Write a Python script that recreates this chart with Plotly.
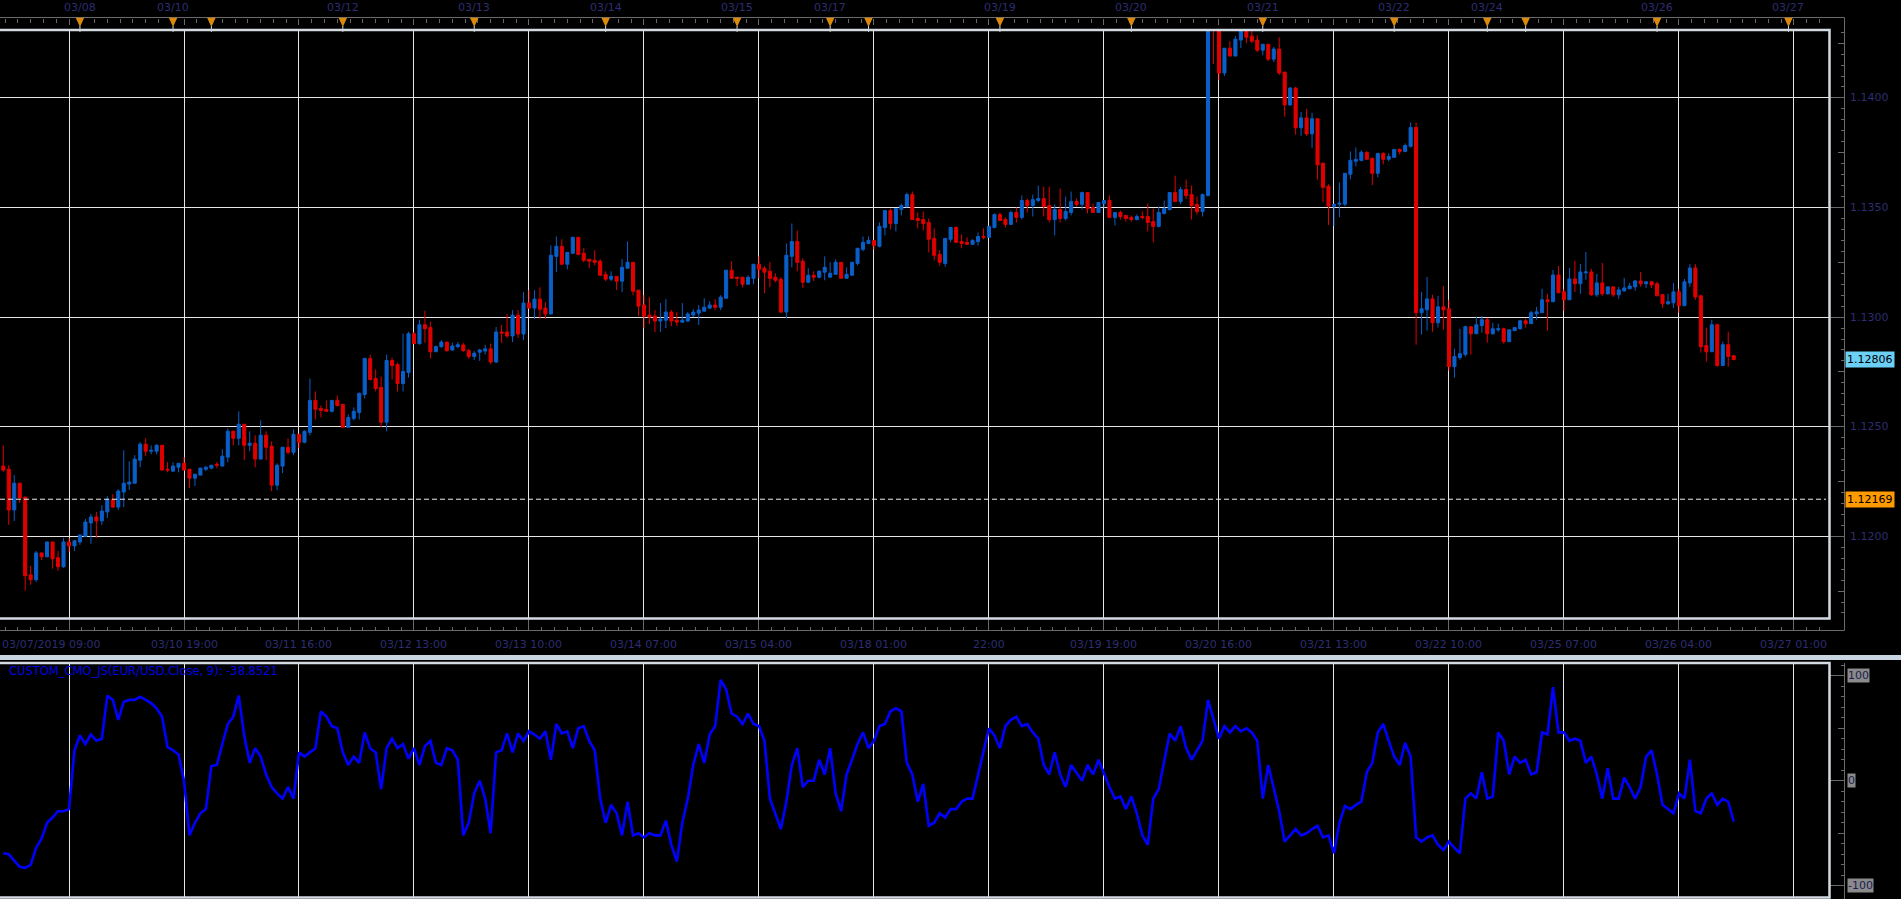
import plotly.graph_objects as go

W, H = 1901, 899

# ---------------- data (EUR/USD hourly, values in pips above BASE) ----------------
BASE = 1.1200
open_pips = [
 32.0, 30.6, 12.0, 24.2, 17.9, -17.6, -19.8, -7.6, -9.4, -2.6,
 -9.8, -13.9, -2.6, -4.4, -2.6, 0.0, 6.1, 8.8, 7.0, 11.1,
 16.8, 13.3, 20.2, 23.8, 24.2, 34.7, 42.0, 38.8, 38.8, 41.5,
 30.6, 29.7, 31.5, 33.3, 30.6, 26.5, 27.9, 30.6, 31.1, 32.9,
 32.0, 36.1, 47.9, 44.7, 51.1, 41.5, 42.4, 35.2, 46.1, 41.1,
 23.3, 32.0, 40.6, 38.3, 46.5, 42.9, 47.4, 62.0, 58.3, 57.9,
 57.0, 62.0, 60.2, 49.7, 53.8, 56.5, 64.7, 81.1, 72.0, 67.9,
 52.0, 80.2, 78.3, 69.7, 74.7, 92.4, 87.9, 96.5, 95.2, 84.2,
 86.5, 88.6, 85.0, 86.5, 87.3, 84.7, 82.0, 84.0, 84.5, 85.5,
 79.5, 93.2, 93.2, 91.4, 100.9, 92.3, 106.4, 104.1, 108.2, 104.1,
 101.4, 127.7, 132.3, 124.1, 129.1, 136.4, 129.1, 126.4, 125.9, 125.5,
 119.5, 117.3, 118.6, 116.4, 122.3, 125.0, 112.3, 105.5, 100.9, 100.5,
 98.2, 98.6, 102.3, 98.6, 97.7, 98.2, 100.9, 101.8, 102.7, 104.1,
 105.5, 104.5, 108.6, 121.4, 118.2, 118.2, 115.0, 117.7, 124.1, 122.3,
 120.9, 118.2, 117.3, 102.3, 127.7, 134.5, 125.5, 115.9, 119.1, 118.2,
 120.5, 118.2, 119.5, 125.0, 117.7, 119.1, 124.5, 130.9, 133.6, 135.0,
 132.3, 140.9, 148.6, 142.7, 149.1, 150.5, 155.9, 145.0, 144.5, 143.2,
 135.9, 128.6, 124.5, 135.5, 140.9, 134.5, 134.1, 133.2, 134.5, 136.8,
 136.4, 140.9, 146.8, 144.5, 142.3, 147.7, 145.5, 153.2, 150.9, 153.2,
 154.1, 150.9, 144.5, 149.1, 145.0, 147.7, 152.7, 151.4, 156.8, 150.0,
 147.7, 151.8, 153.2, 145.5, 147.7, 146.4, 145.5, 144.5, 145.9, 145.9,
 143.6, 141.4, 147.3, 149.1, 156.8, 152.7, 158.2, 155.9, 151.4, 148.2,
 155.5, 237.5, 233.0, 211.4, 222.7, 219.1, 226.4, 231.0, 228.2, 226.4,
 221.8, 224.5, 217.7, 222.3, 211.8, 196.8, 204.5, 186.4, 190.9, 183.6,
 190.5, 170.2, 159.7, 150.6, 151.5, 151.5, 165.2, 171.1, 171.5, 175.2,
 172.4, 165.6, 174.7, 172.0, 172.9, 176.5, 175.6, 177.9, 186.5, 102.0,
 103.3, 108.3, 97.4, 104.7, 103.8, 77.4, 81.5, 82.9, 95.6, 92.4,
 96.1, 98.8, 92.4, 94.2, 94.7, 88.8, 93.8, 94.7, 98.3, 97.0,
 101.5, 102.0, 107.9, 107.0, 119.2, 111.5, 107.9, 117.4, 115.2, 120.2,
 120.6, 110.2, 115.6, 110.6, 113.8, 110.2, 112.0, 112.9, 113.8, 116.5,
 115.2, 116.1, 115.2, 110.2, 106.1, 106.5, 111.5, 105.2, 115.6, 122.4,
 109.7, 87.0, 84.2, 96.5, 77.9, 87.4, 82.4]
high_pips = [
 41.5, 32.4, 27.9, 24.2, 17.9, -13.5, -6.7, -7.6, -2.6, -2.6,
 -6.7, -0.8, -0.8, -1.7, 0.6, 7.9, 10.2, 11.1, 14.2, 18.3,
 19.2, 21.5, 39.2, 34.2, 37.0, 42.9, 44.7, 41.5, 42.0, 41.5,
 33.8, 33.8, 33.3, 36.1, 30.6, 28.3, 31.1, 32.0, 32.4, 33.8,
 39.7, 49.2, 48.3, 57.0, 51.1, 47.9, 46.1, 52.9, 47.9, 43.3,
 33.3, 40.6, 44.7, 48.8, 46.5, 48.3, 72.0, 66.1, 59.7, 62.0,
 62.0, 64.2, 60.2, 55.6, 58.8, 65.6, 81.5, 82.9, 76.1, 72.9,
 82.9, 81.5, 79.2, 92.4, 93.3, 93.3, 98.8, 102.9, 97.9, 87.0,
 89.5, 88.6, 88.3, 88.6, 88.2, 85.5, 84.5, 85.5, 87.3, 87.9,
 95.5, 96.4, 101.4, 103.2, 103.2, 111.4, 112.3, 112.3, 113.6, 106.8,
 132.7, 136.8, 135.5, 129.5, 136.4, 136.4, 131.4, 126.4, 130.5, 126.4,
 120.9, 120.9, 118.6, 126.4, 134.5, 125.0, 112.3, 110.0, 109.1, 103.2,
 106.4, 108.2, 103.2, 102.3, 106.4, 102.3, 103.6, 105.5, 108.6, 107.3,
 108.2, 110.0, 121.4, 125.5, 118.2, 118.2, 119.1, 124.1, 127.7, 123.2,
 125.0, 120.0, 118.2, 133.6, 142.7, 139.5, 126.8, 122.3, 120.9, 121.4,
 127.7, 125.0, 126.4, 125.0, 122.7, 125.0, 131.4, 136.8, 136.8, 135.0,
 143.2, 148.6, 149.5, 149.5, 151.8, 156.8, 157.3, 147.7, 148.2, 145.0,
 140.5, 130.5, 135.9, 140.9, 141.4, 137.7, 136.4, 135.5, 138.6, 140.5,
 141.4, 147.3, 147.7, 145.5, 148.6, 150.0, 155.5, 154.1, 155.9, 160.0,
 159.5, 159.5, 151.4, 158.6, 155.0, 157.3, 154.1, 157.3, 156.8, 151.8,
 152.3, 153.2, 155.5, 147.7, 148.6, 146.4, 146.4, 146.8, 148.2, 151.8,
 149.5, 150.5, 153.2, 156.8, 164.5, 159.5, 162.7, 160.0, 155.0, 156.4,
 239.0, 240.0, 234.0, 222.7, 225.9, 228.2, 232.5, 233.0, 231.0, 228.6,
 224.5, 224.5, 223.2, 227.7, 211.8, 205.0, 205.0, 193.6, 195.0, 193.2,
 190.5, 170.6, 160.6, 151.5, 161.5, 165.6, 175.6, 177.4, 176.1, 175.6,
 172.9, 174.7, 175.2, 174.7, 176.5, 177.0, 179.2, 188.8, 188.8, 111.5,
 118.3, 110.2, 109.7, 114.2, 107.9, 85.6, 94.7, 96.1, 95.6, 100.2,
 100.6, 99.7, 97.4, 97.0, 95.2, 94.2, 95.2, 98.8, 99.2, 102.9,
 104.7, 112.9, 110.6, 121.5, 123.3, 112.9, 122.4, 125.6, 124.2, 129.7,
 122.0, 119.7, 124.7, 113.8, 113.8, 113.8, 117.9, 115.6, 117.0, 120.6,
 116.1, 116.5, 116.1, 110.6, 110.6, 115.6, 112.9, 117.4, 124.2, 124.2,
 110.2, 95.2, 98.8, 97.0, 88.8, 93.3, 82.4]
low_pips = [
 29.4, 5.2, 7.0, 15.3, -24.8, -22.1, -20.8, -10.8, -9.4, -14.8,
 -15.8, -14.4, -7.1, -6.7, -3.9, 0.0, -3.5, -0.8, 5.2, 8.3,
 12.9, 12.0, 13.3, 21.1, 24.2, 31.5, 36.5, 37.4, 37.4, 30.2,
 29.2, 29.7, 29.2, 30.2, 22.0, 22.9, 27.9, 29.7, 30.6, 31.1,
 32.0, 33.8, 41.5, 41.5, 34.7, 38.8, 31.5, 35.2, 34.7, 20.6,
 21.1, 28.8, 37.4, 37.0, 40.2, 42.4, 46.1, 53.3, 54.2, 57.0,
 56.5, 59.2, 49.7, 49.7, 52.9, 53.3, 62.9, 71.1, 66.1, 49.7,
 47.9, 71.5, 66.1, 66.1, 72.4, 87.9, 87.4, 88.3, 81.1, 84.2,
 86.0, 84.2, 84.7, 85.8, 84.2, 81.0, 80.5, 80.0, 83.0, 78.5,
 79.0, 88.2, 90.5, 88.6, 90.5, 89.5, 104.1, 99.1, 99.1, 99.1,
 101.4, 120.5, 124.1, 121.8, 129.1, 128.2, 125.0, 122.3, 123.6, 119.1,
 116.4, 116.4, 112.3, 111.4, 122.3, 110.0, 100.5, 95.0, 96.8, 93.2,
 93.2, 95.0, 95.9, 95.9, 97.3, 97.7, 100.0, 96.4, 102.7, 103.6,
 103.2, 103.2, 108.6, 117.7, 114.1, 113.6, 115.0, 115.0, 117.7, 110.9,
 113.6, 115.9, 101.8, 99.5, 122.7, 120.9, 113.2, 115.5, 116.4, 117.7,
 116.8, 118.2, 119.5, 117.7, 117.7, 119.1, 123.6, 130.0, 133.2, 130.9,
 131.8, 137.3, 140.0, 139.1, 146.4, 150.0, 144.5, 140.5, 139.5, 129.5,
 125.9, 123.5, 123.0, 134.1, 134.1, 131.4, 133.2, 133.2, 132.7, 135.5,
 136.4, 140.5, 144.1, 140.9, 142.3, 143.2, 144.5, 147.7, 145.9, 152.3,
 145.9, 143.2, 137.3, 143.2, 144.1, 146.4, 150.5, 149.1, 147.3, 147.7,
 147.7, 150.0, 145.5, 141.8, 144.5, 143.6, 143.6, 144.1, 144.5, 139.1,
 134.1, 140.9, 146.8, 148.6, 152.7, 151.4, 154.1, 144.5, 146.8, 145.9,
 155.0, 215.5, 208.2, 210.0, 219.1, 219.1, 222.7, 225.0, 225.0, 220.9,
 219.5, 216.8, 216.4, 210.5, 191.4, 196.4, 183.2, 182.7, 182.7, 177.3,
 162.7, 152.4, 142.0, 141.5, 145.6, 150.6, 162.9, 168.8, 171.1, 172.0,
 160.2, 163.8, 169.7, 171.1, 172.9, 174.2, 175.2, 177.4, 87.4, 92.0,
 93.8, 93.3, 95.2, 94.2, 75.6, 72.4, 80.6, 82.0, 82.9, 92.4,
 92.9, 88.3, 92.0, 93.3, 87.9, 88.8, 93.8, 94.2, 95.2, 97.0,
 98.8, 102.0, 93.8, 107.0, 111.1, 102.9, 107.9, 111.5, 110.6, 117.0,
 109.7, 109.2, 109.7, 110.2, 109.2, 108.3, 111.5, 112.9, 112.0, 113.8,
 113.3, 113.3, 109.7, 104.2, 105.6, 104.2, 102.0, 105.2, 113.8, 107.9,
 83.8, 79.7, 84.2, 77.4, 77.9, 77.4, 80.6]
close_pips = [
 30.2, 12.0, 24.2, 17.6, -18.0, -19.8, -7.6, -9.4, -2.6, -10.3,
 -13.9, -2.6, -4.4, -2.1, 0.6, 6.5, 8.8, 7.0, 11.5, 16.8,
 13.3, 20.6, 24.2, 24.7, 35.2, 42.0, 38.8, 39.2, 41.5, 30.2,
 30.2, 32.0, 33.3, 30.2, 26.5, 28.3, 31.1, 31.5, 32.4, 32.4,
 36.5, 47.9, 44.7, 51.1, 41.5, 42.4, 35.2, 46.1, 40.6, 23.3,
 32.4, 40.6, 38.3, 46.5, 42.9, 47.9, 62.0, 57.9, 57.4, 57.0,
 62.0, 59.7, 49.7, 54.2, 57.0, 65.2, 81.1, 71.5, 67.4, 52.0,
 80.2, 77.9, 69.7, 75.2, 92.4, 87.9, 96.5, 94.7, 84.2, 86.5,
 88.6, 84.7, 86.8, 87.4, 84.7, 82.0, 83.5, 85.0, 85.5, 79.5,
 93.2, 92.7, 91.4, 100.9, 92.3, 106.4, 104.1, 108.2, 103.6, 101.4,
 128.2, 132.3, 124.1, 129.5, 136.4, 128.6, 125.9, 125.5, 125.0, 119.1,
 117.3, 118.6, 116.4, 122.7, 125.0, 111.8, 105.0, 100.5, 100.0, 98.2,
 99.1, 102.3, 98.2, 97.7, 98.6, 101.4, 102.3, 103.2, 104.5, 105.5,
 104.5, 109.1, 121.4, 117.7, 117.7, 115.0, 118.2, 124.1, 121.8, 120.5,
 117.7, 116.8, 102.3, 128.2, 134.5, 125.0, 115.9, 119.1, 118.2, 120.9,
 122.7, 120.0, 125.0, 117.7, 119.5, 125.0, 131.4, 134.1, 135.0, 132.7,
 141.4, 148.6, 142.7, 149.5, 150.9, 155.9, 144.5, 144.1, 142.7, 135.5,
 128.2, 125.0, 135.9, 140.9, 134.1, 133.6, 133.2, 135.0, 136.8, 136.4,
 141.4, 146.8, 144.1, 142.3, 147.7, 145.5, 153.2, 150.9, 153.6, 154.1,
 150.5, 144.5, 149.1, 145.0, 148.2, 152.7, 151.4, 156.8, 149.5, 147.7,
 152.3, 153.2, 145.5, 147.7, 145.9, 145.0, 144.5, 145.9, 145.5, 143.2,
 141.4, 147.7, 149.5, 156.8, 152.7, 158.2, 155.5, 150.9, 148.2, 155.9,
 237.5, 233.0, 211.4, 222.7, 219.1, 226.8, 231.0, 227.7, 225.9, 221.8,
 224.5, 217.7, 222.3, 211.4, 196.8, 204.5, 186.4, 190.9, 183.6, 190.5,
 169.5, 159.2, 150.6, 151.5, 152.0, 165.6, 171.5, 172.0, 175.2, 172.0,
 165.6, 174.7, 172.0, 173.3, 176.5, 175.6, 178.3, 186.5, 102.0, 103.8,
 108.3, 97.4, 104.7, 103.3, 77.4, 82.0, 83.3, 95.6, 92.4, 96.5,
 98.8, 92.4, 94.7, 94.7, 88.8, 94.2, 95.2, 98.3, 97.0, 102.0,
 102.4, 107.9, 107.0, 119.2, 111.1, 107.9, 117.4, 115.2, 120.6, 120.6,
 110.2, 115.6, 110.6, 113.8, 110.2, 112.4, 113.3, 114.2, 116.5, 115.2,
 116.1, 114.7, 109.7, 106.1, 107.0, 111.5, 105.2, 116.1, 122.4, 109.2,
 86.5, 84.2, 96.5, 77.9, 87.4, 82.0, 80.6]

# CMO(9) indicator, one reading per bar
cmo_values = [
 -69, -70, -76, -82, -83, -80, -64, -55, -40, -35,
 -29, -29, -27, 29, 43, 35, 44, 38, 40, 81,
 77, 58, 75, 77, 77, 80, 77, 74, 69, 61,
 32, 29, 25, 0, -52, -40, -31, -27, 14, 15,
 35, 54, 61, 81, 43, 17, 31, 23, 6, -6,
 -12, -17, -6, -17, 27, 23, 27, 31, 66, 61,
 52, 50, 27, 15, 23, 17, 46, 31, 27, -8,
 31, 40, 31, 35, 21, 31, 15, 33, 38, 17,
 15, 31, 29, 20, -52, -40, -12, 0, -17, -50,
 27, 29, 45, 27, 45, 38, 47, 44, 40, 47,
 20, 54, 45, 47, 31, 50, 52, 38, 29, -17,
 -40, -23, -31, -52, -20, -52, -50, -54, -50, -52,
 -52, -38, -61, -77, -40, -17, 15, 35, 17, 44,
 52, 96, 87, 64, 61, 54, 64, 54, 52, 38,
 -17, -31, -46, -20, 15, 31, -6, 0, 0, 20,
 6, 31, -12, -29, 6, 20, 35, 46, 31, 38,
 52, 54, 66, 69, 66, 17, 6, -20, -3, -43,
 -40, -31, -35, -27, -27, -20, -17, -17, 6, 29,
 50, 43, 31, 52, 58, 61, 52, 54, 46, 40,
 15, 6, 27, 6, -6, 15, 8, 0, 15, 6,
 20, 6, -6, -17, -15, -27, -15, -31, -52, -61,
 -17, -8, 20, 45, 38, 52, 31, 20, 29, 38,
 77, 58, 40, 52, 46, 52, 47, 50, 46, 38,
 -17, 15, -6, -29, -58, -52, -46, -52, -50, -46,
 -43, -54, -52, -69, -40, -24, -27, -23, -20, 8,
 17, 46, 54, 38, 23, 15, 36, 23, -54, -58,
 -54, -52, -61, -66, -58, -64, -69, -17, -12, -17,
 8, -17, -15, 46, 38, 6, 23, 17, 20, 6,
 8, 46, 44, 89, 46, 46, 38, 40, 38, 17,
 23, 6, -17, 12, -17, -17, 3, -6, -17, -6,
 23, 29, 6, -23, -27, -31, -12, -17, 20, -29,
 -31, -17, -12, -23, -17, -20, -38.8521]

grid_bars = [12, 33, 54, 75, 96, 117, 138, 159, 180, 201, 222, 243, 264, 285, 306, 327]
grid_labels = ["03/07/2019 09:00", "03/10 19:00", "03/11 16:00", "03/12 13:00",
               "03/13 10:00", "03/14 07:00", "03/15 04:00", "03/18 01:00", "22:00",
               "03/19 19:00", "03/20 16:00", "03/21 13:00", "03/22 10:00",
               "03/25 07:00", "03/26 04:00", "03/27 01:00"]
event_bars = [14, 31, 38, 62, 86, 110, 134, 151, 158, 182, 206, 230, 254, 271, 278, 302, 326]
event_labels = ["03/08", "03/10", "", "03/12", "03/13", "03/14", "03/15", "03/17", "",
                "03/19", "03/20", "03/21", "03/22", "03/24", "", "03/26", "03/27"]
price_ticks = [1.1200, 1.1250, 1.1300, 1.1350, 1.1400]
price_labels = ["1.1200", "1.1250", "1.1300", "1.1350", "1.1400"]
mid_price_ticks = [1.1175, 1.1225, 1.1275, 1.1325, 1.1375, 1.1425]
last_price = 1.12806
level_price = 1.12169
cmo_ticks = [-100, 0, 100]
cmo_mid_ticks = [-50, 50]
cmo_name = "CUSTOM_CMO_JS(EUR/USD.Close, 9): -38.8521"

# ---------------- derived ----------------
opens = [round(BASE + p / 10000, 5) for p in open_pips]
highs = [round(BASE + p / 10000, 5) for p in high_pips]
lows = [round(BASE + p / 10000, 5) for p in low_pips]
closes = [round(BASE + p / 10000, 5) for p in close_pips]
bars = list(range(len(closes)))

def px(x):
    return x / W

def py(y):
    return 1 - y / H

X_RANGE = [-0.6, 333.4]
Y_RANGE = [1.11627, 1.14310]
C_RANGE = [-110.7, 112.1]

UP, DN = "#0a5fc8", "#e00000"
GRID = "#e6e6e6"
FRAME = "#d3dae2"
AX = "#6a6a6a"
NAVY = "#2d2d70"
FONT = "DejaVu Sans"

fig = go.Figure()
fig.add_trace(go.Candlestick(
    x=bars, open=opens, high=highs, low=lows, close=closes,
    increasing=dict(line=dict(color=UP, width=1), fillcolor=UP),
    decreasing=dict(line=dict(color=DN, width=1), fillcolor=DN),
    whiskerwidth=0, xaxis="x", yaxis="y", showlegend=False, hoverinfo="skip"))
fig.add_trace(go.Scatter(x=bars, y=cmo_values, mode="lines",
                         line=dict(color="#0000ff", width=2.6),
                         xaxis="x2", yaxis="y2", showlegend=False, hoverinfo="skip"))
# invisible anchors so the decorative tick axes get drawn
for xa, ya, yv in [("x3", "y", closes[-1]), ("x4", "y", closes[-1]), ("x", "y3", closes[-1]),
                   ("x", "y5", closes[-1]), ("x2", "y4", cmo_values[-1]), ("x2", "y6", cmo_values[-1])]:
    fig.add_trace(go.Scatter(x=[bars[-1]], y=[yv], xaxis=xa, yaxis=ya, mode="markers",
                             marker=dict(opacity=0, size=1), showlegend=False, hoverinfo="skip"))

shapes = []
shapes.append(dict(type="rect", xref="paper", yref="paper", x0=0, x1=1, y0=py(660), y1=py(655),
                   fillcolor="#c8d4e0", line=dict(width=0), layer="above"))
shapes.append(dict(type="line", xref="paper", yref="paper", x0=0, x1=px(1844.5), y0=py(17.5), y1=py(17.5),
                   line=dict(color=AX, width=1)))
shapes.append(dict(type="line", xref="paper", yref="paper", x0=px(1844.5), x1=px(1844.5), y0=py(17.5), y1=py(630.5),
                   line=dict(color=AX, width=1)))
shapes.append(dict(type="line", xref="paper", yref="paper", x0=0, x1=px(1844.5), y0=py(630.5), y1=py(630.5),
                   line=dict(color=AX, width=1)))
shapes.append(dict(type="line", xref="paper", yref="paper", x0=px(1844.5), x1=px(1844.5), y0=py(663), y1=py(899),
                   line=dict(color=AX, width=1)))
shapes.append(dict(type="line", xref="paper", yref="y", x0=0, x1=px(1826), y0=level_price, y1=level_price,
                   line=dict(color="#eeeeee", width=1, dash="5px,3px"), layer="above"))
shapes.append(dict(type="rect", xref="paper", yref="paper", x0=-0.01, x1=px(1829.5), y0=py(618.5), y1=py(30),
                   line=dict(color=FRAME, width=2.5), layer="above"))
shapes.append(dict(type="rect", xref="paper", yref="paper", x0=-0.01, x1=px(1829.5), y0=py(897.5), y1=py(663),
                   line=dict(color=FRAME, width=2.5), layer="above"))
for b in event_bars:
    shapes.append(dict(type="path", xref="x", yref="paper",
                       path=f"M {b-0.78},{py(17.8)} L {b+0.78},{py(17.8)} L {b},{py(27)} Z",
                       fillcolor="#dc8a0c", line=dict(width=0), layer="above"))
    shapes.append(dict(type="line", xref="x", yref="paper", x0=b, x1=b, y0=py(26), y1=py(32),
                       line=dict(color="#cfcfcf", width=1), layer="above"))

annotations = []
for b, t in zip(event_bars, event_labels):
    if t:
        annotations.append(dict(x=b, y=py(8), xref="x", yref="paper", text=t, showarrow=False,
                                xanchor="center", yanchor="middle", font=dict(family=FONT, size=11, color=NAVY)))
for i, (b, t) in enumerate(zip(grid_bars, grid_labels)):
    if i == 0:
        annotations.append(dict(x=0, y=py(644), xref="paper", yref="paper", text=t, showarrow=False,
                                xanchor="left", yanchor="middle", font=dict(family=FONT, size=11, color=NAVY)))
    else:
        annotations.append(dict(x=b, y=py(644), xref="x", yref="paper", text=t, showarrow=False,
                                xanchor="center", yanchor="middle", font=dict(family=FONT, size=11, color=NAVY)))
for v, t in zip(price_ticks, price_labels):
    annotations.append(dict(x=px(1848), y=v, xref="paper", yref="y", text=t, showarrow=False,
                            xanchor="left", yanchor="middle", font=dict(family=FONT, size=11, color=NAVY)))
annotations.append(dict(x=px(1845), y=last_price, xref="paper", yref="y", text=f"{last_price:.5f}",
                        showarrow=False, xanchor="left", yanchor="middle", bgcolor="#6ccff6", borderpad=1,
                        font=dict(family=FONT, size=11, color="#000000")))
annotations.append(dict(x=px(1845), y=level_price, xref="paper", yref="y", text=f"{level_price:.5f}",
                        showarrow=False, xanchor="left", yanchor="middle", bgcolor="#ff9a00", borderpad=1,
                        font=dict(family=FONT, size=11, color="#000000")))
for v in cmo_ticks:
    annotations.append(dict(x=px(1846.5), y=v, xref="paper", yref="y2", text=str(v), showarrow=False,
                            xanchor="left", yanchor="middle", bgcolor="#8a8a8a", borderpad=0,
                            font=dict(family=FONT, size=11, color="#1c1c50")))
annotations.append(dict(x=px(7), y=py(671), xref="paper", yref="paper", text=cmo_name, showarrow=False,
                        xanchor="left", yanchor="middle", font=dict(family=FONT, size=11.5, color="#0000e6")))

tick_axis = dict(showgrid=False, zeroline=False, showline=False, showticklabels=False, fixedrange=True)

fig.update_layout(
    width=W, height=H, autosize=False,
    margin=dict(l=0, r=0, t=0, b=0, pad=0),
    paper_bgcolor="#000000", plot_bgcolor="#000000",
    showlegend=False, hovermode=False, boxgap=0.2,
    xaxis=dict(domain=[0, px(1829)], range=X_RANGE, anchor="y", tickmode="array", tickvals=grid_bars,
               showgrid=True, gridcolor=GRID, gridwidth=1, showticklabels=False, ticks="",
               zeroline=False, showline=False, rangeslider=dict(visible=False), fixedrange=True),
    yaxis=dict(domain=[py(618), py(30)], range=Y_RANGE, anchor="x", tickmode="array", tickvals=price_ticks,
               showgrid=True, gridcolor=GRID, gridwidth=1, showticklabels=False, ticks="",
               zeroline=False, showline=False, fixedrange=True),
    xaxis2=dict(domain=[0, px(1829)], range=X_RANGE, anchor="y2", tickmode="array", tickvals=grid_bars,
                showgrid=True, gridcolor=GRID, gridwidth=1, showticklabels=False, ticks="",
                zeroline=False, showline=False, fixedrange=True),
    yaxis2=dict(domain=[py(897), py(663)], range=C_RANGE, anchor="x2", showgrid=False,
                showticklabels=False, ticks="", zeroline=False, showline=False, fixedrange=True),
    xaxis3=dict(overlaying="x", anchor="free", position=py(630.5), side="bottom", range=X_RANGE,
                tickmode="array", tickvals=grid_bars, ticks="inside", ticklen=12, tickcolor=AX, tickwidth=1,
                minor=dict(tickmode="linear", tick0=12, dtick=21 / 9, ticks="inside", ticklen=4,
                           tickcolor=AX, tickwidth=1, showgrid=False), **tick_axis),
    xaxis4=dict(overlaying="x", anchor="free", position=py(17.5), side="top", range=X_RANGE,
                tickmode="array", tickvals=grid_bars, ticks="inside", ticklen=6, tickcolor=AX, tickwidth=1,
                minor=dict(tickmode="linear", tick0=12, dtick=21 / 9, ticks="inside", ticklen=4,
                           tickcolor=AX, tickwidth=1, showgrid=False), **tick_axis),
    yaxis3=dict(overlaying="y", anchor="free", position=px(1844.5), side="right", range=Y_RANGE,
                tickmode="array", tickvals=price_ticks, ticks="inside", ticklen=15, tickcolor=AX, tickwidth=1,
                minor=dict(tickmode="linear", tick0=1.12, dtick=0.0005, ticks="inside", ticklen=4,
                           tickcolor=AX, tickwidth=1, showgrid=False), **tick_axis),
    yaxis5=dict(overlaying="y", anchor="free", position=px(1844.5), side="right", range=Y_RANGE,
                tickmode="array", tickvals=mid_price_ticks, ticks="inside", ticklen=7, tickcolor=AX,
                tickwidth=1, **tick_axis),
    yaxis4=dict(overlaying="y2", anchor="free", position=px(1844.5), side="right", range=C_RANGE,
                tickmode="array", tickvals=cmo_ticks, ticks="inside", ticklen=15, tickcolor=AX, tickwidth=1,
                minor=dict(tickmode="linear", tick0=0, dtick=10, ticks="inside", ticklen=4,
                           tickcolor=AX, tickwidth=1, showgrid=False), **tick_axis),
    yaxis6=dict(overlaying="y2", anchor="free", position=px(1844.5), side="right", range=C_RANGE,
                tickmode="array", tickvals=cmo_mid_ticks, ticks="inside", ticklen=7, tickcolor=AX,
                tickwidth=1, **tick_axis),
    shapes=shapes,
    annotations=annotations,
)

fig.write_html("out.html")
